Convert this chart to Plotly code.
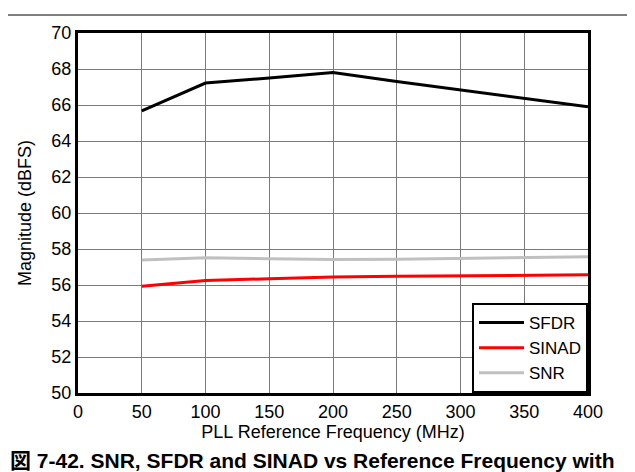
import plotly.graph_objects as go

freq = [50, 100, 150, 200, 250, 300, 350, 400]
sfdr = [65.67, 67.22, 67.5, 67.81, 67.31, 66.84, 66.39, 65.9]
sinad = [55.93, 56.25, 56.35, 56.44, 56.48, 56.5, 56.54, 56.57]
snr = [57.39, 57.52, 57.46, 57.41, 57.43, 57.48, 57.52, 57.57]

x_ticks = [0, 50, 100, 150, 200, 250, 300, 350, 400]
y_ticks = [50, 52, 54, 56, 58, 60, 62, 64, 66, 68, 70]

W, H = 635, 472
ML, MR, MT, MB = 70, 55, 25, 87
FONT = "Liberation Sans, Arial, Noto Sans CJK JP, sans-serif"

fig = go.Figure()
fig.add_trace(go.Scatter(x=freq, y=sfdr, mode="lines", name="SFDR",
                         line=dict(color="black", width=3)))
fig.add_trace(go.Scatter(x=freq, y=sinad, mode="lines", name="SINAD",
                         line=dict(color="#ff0000", width=3)))
fig.add_trace(go.Scatter(x=freq, y=snr, mode="lines", name="SNR",
                         line=dict(color="#c0c0c0", width=3)))

pw = W - ML - MR
ph = H - MT - MB

fig.update_layout(
    width=W, height=H,
    margin=dict(l=ML, r=MR, t=MT, b=MB, pad=0),
    paper_bgcolor="white", plot_bgcolor="white",
    font=dict(family=FONT, size=18, color="black"),
    showlegend=True,
    legend=dict(x=1, y=0, xanchor="right", yanchor="bottom",
                bgcolor="white", bordercolor="black", borderwidth=2,
                font=dict(size=17), tracegroupgap=0, itemwidth=45,
                traceorder="normal"),
    xaxis=dict(range=[0, 400], tickvals=x_ticks, ticks="", showgrid=True,
               gridcolor="#7a7a7a", gridwidth=1, showline=True, mirror=True,
               linecolor="black", linewidth=3, zeroline=False,
               title=dict(text="PLL Reference Frequency (MHz)", standoff=4,
                          font=dict(size=18)),
               tickfont=dict(size=18)),
    yaxis=dict(range=[50, 70], tickvals=y_ticks, ticks="", showgrid=True,
               gridcolor="#7a7a7a", gridwidth=1, showline=True, mirror=True,
               linecolor="black", linewidth=3, zeroline=False,
               title=dict(text="Magnitude (dBFS)", standoff=16,
                          font=dict(size=18)),
               tickfont=dict(size=18)),
    shapes=[dict(type="line", xref="paper", yref="paper",
                 x0=-ML / pw, x1=1 + MR / pw,
                 y0=1 + (MT - 7) / ph, y1=1 + (MT - 7) / ph,
                 line=dict(color="#555555", width=1.5))],
    annotations=[dict(text="<b>図 7-42. SNR, SFDR and SINAD vs Reference Frequency with</b>",
                      xref="paper", yref="paper",
                      x=-ML / pw, y=-(452 - (H - MB)) / ph,
                      xanchor="left", yanchor="middle", showarrow=False,
                      font=dict(size=21, family=FONT))],
)

fig.write_html("out.html")
